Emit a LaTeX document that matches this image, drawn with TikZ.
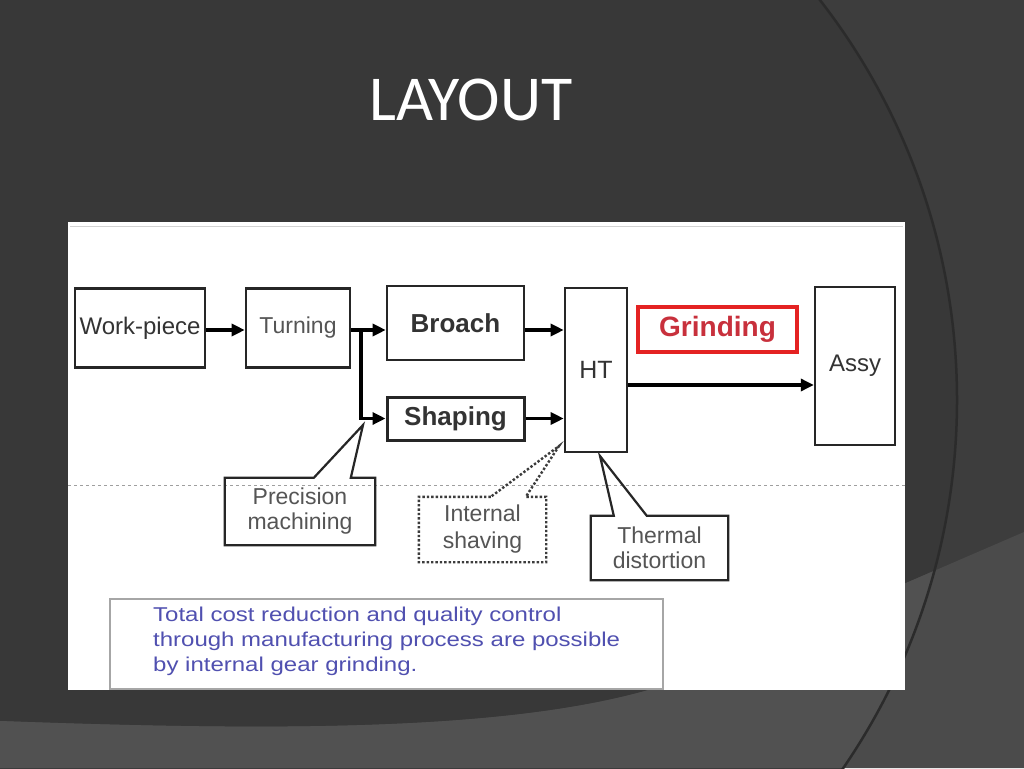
\documentclass[tikz,border=0pt]{standalone}
\usepackage{fontspec}
\setmainfont{Liberation Sans}
\newfontfamily\titlefont{Carlito}
\newfontfamily\widefont[FakeStretch=1.2]{Liberation Sans}
\usetikzlibrary{arrows.meta,calc}
\definecolor{bgin}{HTML}{383838}
\definecolor{bgout}{HTML}{3D3D3D}
\definecolor{bandin}{HTML}{515151}
\definecolor{bandout}{HTML}{4B4B4B}
\definecolor{arcc}{HTML}{2B2B2B}
\definecolor{boxline}{HTML}{262626}
\definecolor{txtdark}{HTML}{333333}
\definecolor{txtgray}{HTML}{555555}
\definecolor{gred}{HTML}{E42222}
\definecolor{gtxt}{HTML}{C8303C}
\definecolor{notetxt}{RGB}{80,80,176}
\newcommand{\fsz}[2]{\fontsize{#1}{#2}\selectfont}
\tikzset{
  procbox/.style={draw=boxline, line width=2.6pt, fill=white, inner sep=0pt, text=txtdark},
  redbox/.style={draw=gred, line width=3.8pt, fill=white, inner sep=0pt, text=gtxt},
  arr/.style={draw=black, line width=3.2pt, -{Triangle[length=13pt,width=12pt]}},
  plainline/.style={draw=black, line width=3.2pt},
  calloutbox/.style={draw=none, inner sep=0pt, align=center, text=txtgray},
  calloutline/.style={draw=boxline, line width=2.2pt, line join=miter},
  calloutdots/.style={draw=boxline!90, line width=2.4pt, dotted},
}
\begin{document}
\begin{tikzpicture}[x=1pt,y=-1pt]
\useasboundingbox (0,0) rectangle (1024,768);
\clip (0,0) rectangle (1024,768);
% background
\fill[bgout] (0,0) rectangle (1024,768);
\fill[bgin] (305,400) circle[radius=652pt];
\fill[bandout] (0,721) .. controls (300,732) and (560,732) .. (700,672) -- (1024,532) -- (1024,768) -- (0,768) -- cycle;
\begin{scope}
  \clip (305,400) circle[radius=652pt];
  \fill[bandin] (0,721) .. controls (300,732) and (560,732) .. (700,672) -- (1024,532) -- (1024,768) -- (0,768) -- cycle;
\end{scope}
\draw[arcc, line width=2.5pt] (305,400) circle[radius=652pt];
% title
\node[anchor=base, text=white, inner sep=0pt, font={\titlefont\fsz{64}{70}}] (title) at (471,120) {LAYOUT};
% white panel
\fill[white] (68,222) rectangle (905,690);
\draw[gray!35, line width=1pt] (70,226) -- (903,226);
\draw[gray!75, dashed, line width=1pt] (68,485) -- (905,485);
% process boxes
\node[procbox, minimum width=130pt, minimum height=79pt, font={\fsz{24}{28}}] (wp) at (140,328) {Work-piece};
\node[procbox, text=txtgray, minimum width=104pt, minimum height=79pt, font={\fsz{23}{27}}] (turn) at (298,328) {Turning};
\node[procbox, minimum width=137pt, minimum height=74pt, font={\fsz{26}{30}\bfseries}] (broach) at (455.5,323) {Broach};
\node[procbox, line width=3pt, minimum width=137pt, minimum height=43pt, font={\fsz{26}{30}\bfseries}] (shaping) at (455.5,418.5) {Shaping};
\node[procbox, minimum width=62pt, minimum height=164pt, font={\fsz{25}{29}}] (ht) at (596,370) {HT};
\node[redbox, minimum width=159pt, minimum height=45pt, font={\fsz{28}{32}\bfseries}] (grind) at (717.5,329.5) {Grinding};
\node[procbox, line width=2.4pt, minimum width=80pt, minimum height=158pt, font={\fsz{24}{28}}] (assy) at (855,366) {Assy};
% connectors
\coordinate (br) at (361,330);
\coordinate (hay) at (760,385);
\draw[arr] (wp.east |- br) -- (turn.west |- br);
\draw[plainline] (turn.east |- br) -- (br);
\draw[arr] (br) -- (broach.west |- br);
\draw[arr] (br) |- (shaping.west);
\draw[arr] (broach.east |- br) -- (ht.west |- br);
\draw[arr] (shaping.east) -- (ht.west |- shaping.east);
\draw[arr] (ht.east |- hay) -- (assy.west |- hay);
% callouts
\node[calloutbox, minimum width=150pt, minimum height=67pt, font={\fsz{23}{25}}] (pm) at (300,511.5) {Precision\\machining};
\coordinate (tipP) at (363,425);
\draw[calloutline] ($(pm.north west)+(89,0)$) -- (pm.north west) -- (pm.south west) -- (pm.south east) -- (pm.north east) -- ($(pm.north west)+(126,0)$) -- (tipP) -- cycle;
\node[calloutbox, minimum width=127pt, minimum height=65pt, font={\fsz{23}{27}}] (is) at (482.5,529.5) {Internal\\shaving};
\coordinate (tipI) at (559,446);
\draw[calloutdots] ($(is.north west)+(72,0)$) -- (is.north west) -- (is.south west) -- (is.south east) -- (is.north east) -- ($(is.north west)+(107,0)$) -- (tipI) -- cycle;
\node[calloutbox, minimum width=137pt, minimum height=64pt, font={\fsz{23}{25}}] (td) at (659.5,548) {Thermal\\distortion};
\coordinate (tipT) at (600,456);
\draw[calloutline] ($(td.north west)+(23,0)$) -- (td.north west) -- (td.south west) -- (td.south east) -- (td.north east) -- ($(td.north west)+(56,0)$) -- (tipT) -- cycle;
% note
\node[draw=gray!70, line width=1.3pt, minimum width=553pt, minimum height=90pt, inner sep=0pt] (note) at (386.5,644) {};
\node[anchor=west, align=left, inner sep=0pt, text=notetxt, font={\widefont\fsz{20}{25}}] (notetext) at (153,641) {Total cost reduction and quality control\\through manufacturing process are possible\\by internal gear grinding.};
\end{tikzpicture}
\end{document}
